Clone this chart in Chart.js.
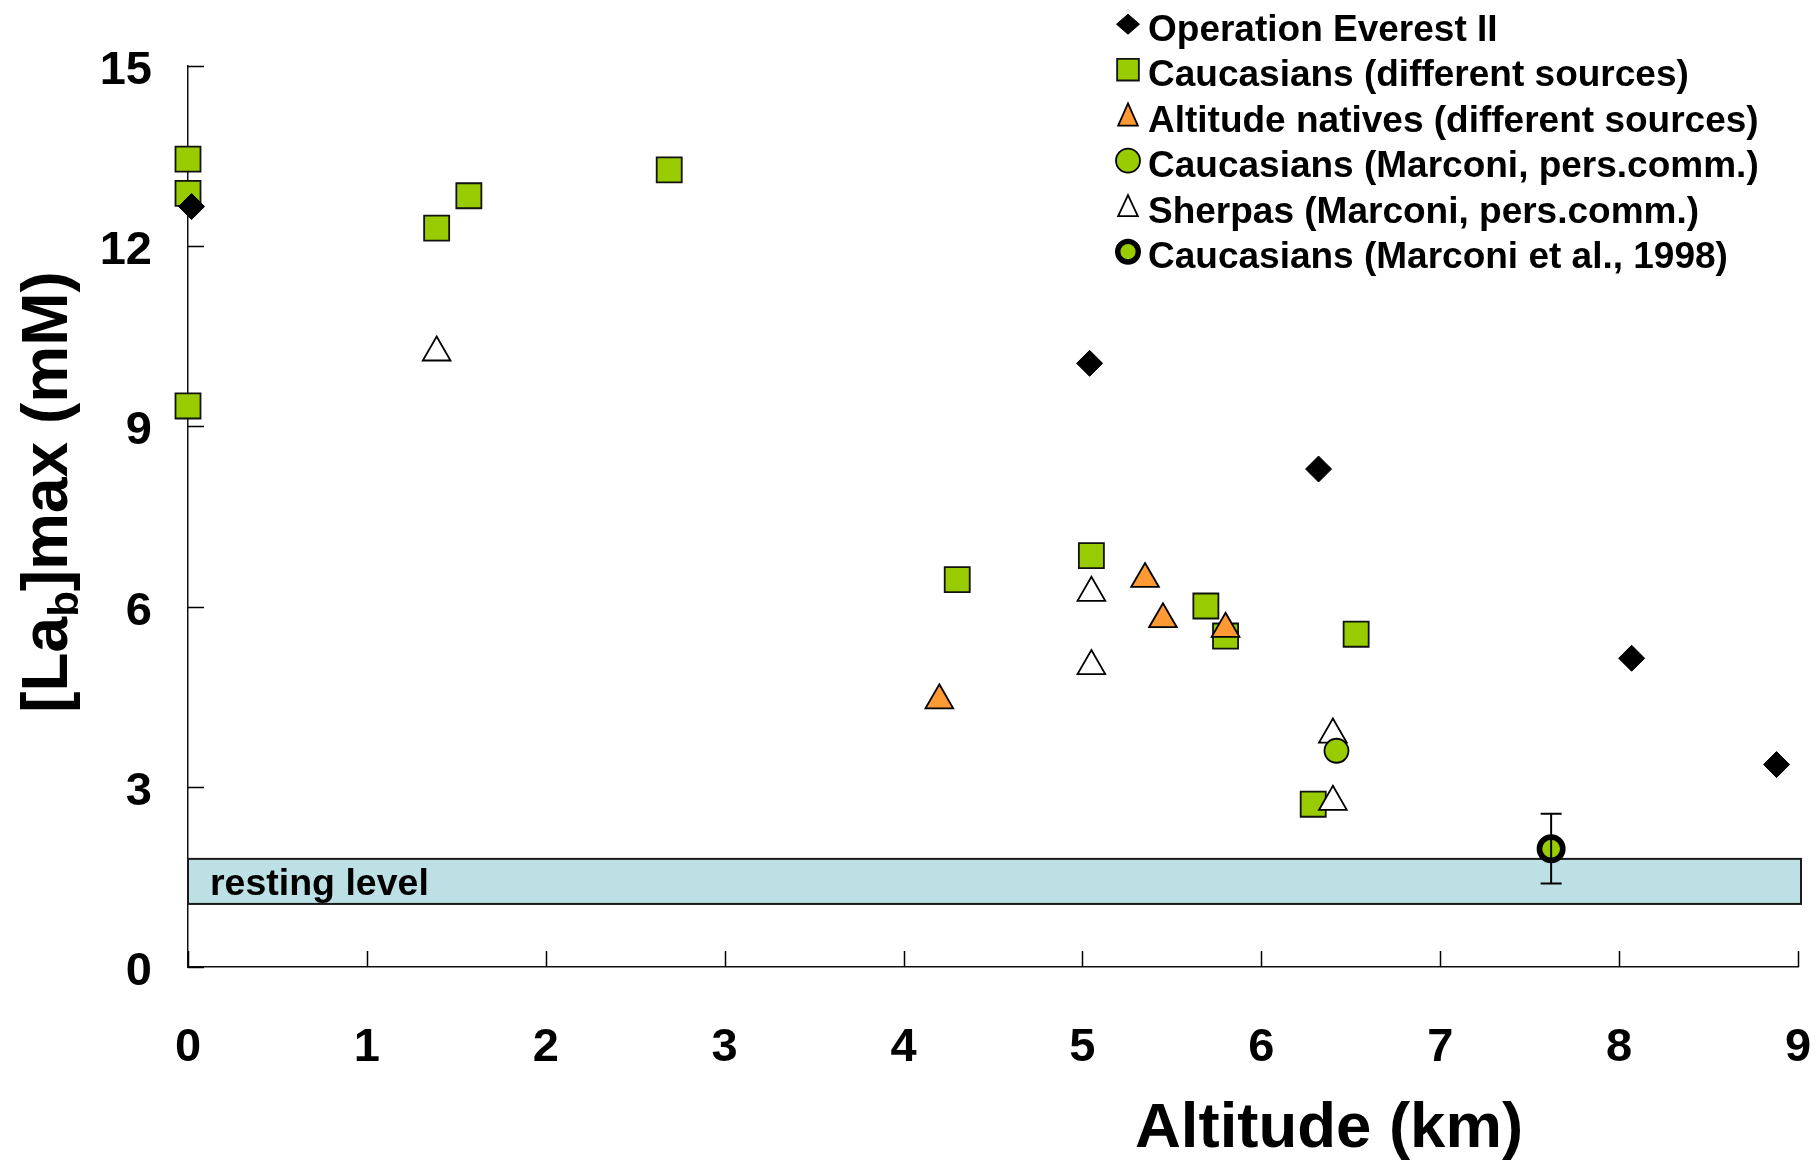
<!DOCTYPE html>
<html>
<head>
<meta charset="utf-8">
<title>Lactate vs altitude</title>
<script src="https://cdn.jsdelivr.net/npm/chart.js@4.4.1/dist/chart.umd.min.js"></script>
<style>
    html, body { margin: 0; padding: 0; background: #fff; }
    #wrap { width: 1820px; height: 1163px; }
</style>
</head>
<body>
<div id="wrap"><canvas id="chart" width="1820" height="1163"></canvas></div>
<script>
// Peak blood lactate [La_b]max against altitude

// Operation Everest II
const everestAlt = [0.02, 5.04, 6.32, 8.07, 8.88];
const everestLa = [12.66, 10.05, 8.29, 5.14, 3.37];

// Caucasians (different sources)
const caucAlt = [0, 0, 0, 1.39, 1.57, 2.69, 4.30, 5.05, 5.69, 5.80, 6.29, 6.53];
const caucLa = [13.45, 12.88, 9.34, 12.30, 12.84, 13.27, 6.45, 6.85, 6.01, 5.51, 2.71, 5.54];

// Altitude natives (different sources)
const nativeAlt = [4.20, 5.35, 5.45, 5.80];
const nativeLa = [4.44, 6.46, 5.79, 5.63];

// Caucasians (Marconi, pers.comm.)
const marconiAlt = [6.42];
const marconiLa = [3.60];

// Sherpas (Marconi, pers.comm.)
const sherpaAlt = [1.39, 5.05, 5.05, 6.40, 6.40];
const sherpaLa = [10.23, 6.23, 5.01, 3.87, 2.75];

// Caucasians (Marconi et al., 1998), mean with error
const marconi98Alt = [7.62];
const marconi98La = [1.97];
const marconi98Err = [0.58];

// resting band (mM)
const restingLevel = [1.05, 1.8];

const xTicks = [0, 1, 2, 3, 4, 5, 6, 7, 8, 9];
const yTicks = [0, 3, 6, 9, 12, 15];

const FONT = '"Liberation Sans", Arial, Helvetica, sans-serif';

function toPoints(xs, ys) {
    return xs.map((x, i) => ({ x: x, y: ys[i] }));
}

// Inward tick marks, resting band, error bars, titles and legend
const decorations = {
    id: 'decorations',
    beforeDatasetsDraw(chart) {
        const ctx = chart.ctx;
        const xs = chart.scales.x;
        const ys = chart.scales.y;

        // resting level band
        const top = ys.getPixelForValue(restingLevel[1]);
        const bottom = ys.getPixelForValue(restingLevel[0]);
        const left = xs.getPixelForValue(0);
        const right = xs.right + 3;
        ctx.save();
        ctx.fillStyle = '#BDE0E4';
        ctx.fillRect(left, top, right - left, bottom - top);
        ctx.strokeStyle = '#1a1a1a';
        ctx.lineWidth = 2;
        ctx.strokeRect(left, top, right - left, bottom - top);
        ctx.fillStyle = '#000';
        ctx.font = 'bold 37.5px ' + FONT;
        ctx.textBaseline = 'alphabetic';
        ctx.fillText('resting level', left + 22, bottom - 9);
        ctx.restore();

        // ticks pointing into the plot
        ctx.save();
        ctx.strokeStyle = '#000';
        ctx.lineWidth = 1.5;
        ctx.beginPath();
        yTicks.forEach(v => {
            const py = Math.round(ys.getPixelForValue(v)) + 0.5;
            ctx.moveTo(xs.left, py);
            ctx.lineTo(xs.left + 16, py);
        });
        xTicks.forEach(v => {
            const px = Math.round(xs.getPixelForValue(v)) + 0.5;
            ctx.moveTo(px, ys.bottom);
            ctx.lineTo(px, ys.bottom - 16);
        });
        ctx.stroke();
        ctx.restore();
    },
    afterDatasetsDraw(chart) {
        const ctx = chart.ctx;
        const xs = chart.scales.x;
        const ys = chart.scales.y;
        ctx.save();
        ctx.strokeStyle = '#000';
        ctx.lineWidth = 2;
        marconi98Alt.forEach((a, i) => {
            const px = xs.getPixelForValue(a);
            const hi = ys.getPixelForValue(marconi98La[i] + marconi98Err[i]);
            const lo = ys.getPixelForValue(marconi98La[i] - marconi98Err[i]);
            ctx.beginPath();
            ctx.moveTo(px, hi);
            ctx.lineTo(px, lo);
            ctx.moveTo(px - 10.5, hi);
            ctx.lineTo(px + 10.5, hi);
            ctx.moveTo(px - 10.5, lo);
            ctx.lineTo(px + 10.5, lo);
            ctx.stroke();
        });
        ctx.restore();
    },
    afterDraw(chart) {
        const ctx = chart.ctx;
        ctx.save();
        ctx.fillStyle = '#000';
        ctx.textBaseline = 'alphabetic';

        // x axis title
        ctx.font = 'bold 63.5px ' + FONT;
        ctx.textAlign = 'left';
        ctx.fillText('Altitude (km)', 1135, 1147);

        // y axis title with subscript
        ctx.save();
        ctx.translate(67, 492);
        ctx.rotate(-Math.PI / 2);
        const big = 'bold 64px ' + FONT;
        const small = 'bold 42px ' + FONT;
        const parts = [
            { t: '[La', f: big, dy: 0 },
            { t: 'b', f: small, dy: 11 },
            { t: ']max (mM)', f: big, dy: 0 }
        ];
        let total = 0;
        parts.forEach(p => { ctx.font = p.f; p.w = ctx.measureText(p.t).width; total += p.w; });
        let cx = -total / 2;
        parts.forEach(p => {
            ctx.font = p.f;
            ctx.fillText(p.t, cx, p.dy);
            cx += p.w;
        });
        ctx.restore();

        // legend
        const draw = Chart.helpers && (Chart.helpers.drawPointLegend || Chart.helpers.drawPoint);
        ctx.font = 'bold 37px ' + FONT;
        chart.data.datasets.forEach((ds, i) => {
            const base = 40.7 + i * 45.5;
            const my = base - 16.5 + (ds.legendShift || 0);
            ctx.fillStyle = ds.backgroundColor;
            ctx.strokeStyle = ds.borderColor;
            ctx.lineWidth = ds.legendBorder;
            if (draw) {
                draw(ctx, {
                    pointStyle: ds.pointStyle,
                    radius: ds.legendRadius,
                    rotation: 0,
                    borderWidth: ds.legendBorder
                }, 1128, my, ds.legendWidth);
            }
            ctx.fillStyle = '#000';
            ctx.fillText(ds.label, 1148, base);
        });
        ctx.restore();
    }
};

new Chart(document.getElementById('chart'), {
    type: 'scatter',
    data: {
        datasets: [{
            label: 'Operation Everest II',
            data: toPoints(everestAlt, everestLa),
            pointStyle: 'rectRot',
            pointRadius: 13,
            backgroundColor: '#000',
            borderColor: '#000',
            borderWidth: 1,
            order: 0,
            legendRadius: 10,
            legendWidth: 23,
            legendBorder: 1
        }, {
            label: 'Caucasians (different sources)',
            data: toPoints(caucAlt, caucLa),
            pointStyle: 'rect',
            pointRadius: 17.7,
            backgroundColor: '#99CC00',
            borderColor: '#111',
            borderWidth: 1.8,
            order: 5,
            legendRadius: 15.3,
            legendWidth: 21.7,
            legendBorder: 1.8
        }, {
            label: 'Altitude natives (different sources)',
            data: toPoints(nativeAlt, nativeLa),
            pointStyle: 'triangle',
            pointRadius: 16,
            backgroundColor: '#FF9933',
            borderColor: '#000',
            borderWidth: 1.8,
            order: 3,
            legendRadius: 14.8,
            legendWidth: 22.7,
            legendBorder: 1.8,
            legendShift: 3
        }, {
            label: 'Caucasians (Marconi, pers.comm.)',
            data: toPoints(marconiAlt, marconiLa),
            pointStyle: 'circle',
            pointRadius: 12,
            backgroundColor: '#99CC00',
            borderColor: '#000',
            borderWidth: 1.8,
            order: 1,
            legendRadius: 12,
            legendBorder: 1.8
        }, {
            label: 'Sherpas (Marconi, pers.comm.)',
            data: toPoints(sherpaAlt, sherpaLa),
            pointStyle: 'triangle',
            pointRadius: 16,
            backgroundColor: '#fff',
            borderColor: '#000',
            borderWidth: 1.8,
            order: 2,
            legendRadius: 14,
            legendWidth: 22.7,
            legendBorder: 1.8,
            legendShift: 3
        }, {
            label: 'Caucasians (Marconi et al., 1998)',
            data: toPoints(marconi98Alt, marconi98La),
            pointStyle: 'circle',
            pointRadius: 11.7,
            backgroundColor: '#99CC00',
            borderColor: '#000',
            borderWidth: 5.6,
            order: 0,
            legendRadius: 10.3,
            legendBorder: 5.4
        }]
    },
    options: {
        responsive: false,
        animation: false,
        devicePixelRatio: 1,
        events: [],
        clip: false,
        layout: { padding: { top: 66, right: 22, bottom: 0, left: 0 } },
        plugins: {
            legend: { display: false },
            tooltip: { enabled: false }
        },
        scales: {
            x: {
                type: 'linear',
                min: 0,
                max: 9,
                afterBuildTicks: (scale) => { scale.ticks = xTicks.map(v => ({ value: v })); },
                ticks: {
                    color: '#000',
                    padding: 0,
                    font: { family: FONT, size: 47, weight: 'bold' }
                },
                // invisible tick marks only push the labels down
                grid: {
                    display: true,
                    drawOnChartArea: false,
                    drawTicks: true,
                    tickLength: 53,
                    color: 'rgba(0,0,0,0)'
                },
                border: { display: true, color: '#111', width: 1.5 },
                afterFit: (scale) => { scale.height = 196; }
            },
            y: {
                type: 'linear',
                min: 0,
                max: 15,
                afterBuildTicks: (scale) => { scale.ticks = yTicks.map(v => ({ value: v })); },
                ticks: {
                    color: '#000',
                    padding: 28,
                    labelOffset: 5,
                    font: { family: FONT, size: 47, weight: 'bold' }
                },
                grid: { display: false },
                border: { display: true, color: '#111', width: 1.5 },
                afterFit: (scale) => { scale.width = 188; }
            }
        }
    },
    plugins: [decorations]
});
</script>
</body>
</html>
